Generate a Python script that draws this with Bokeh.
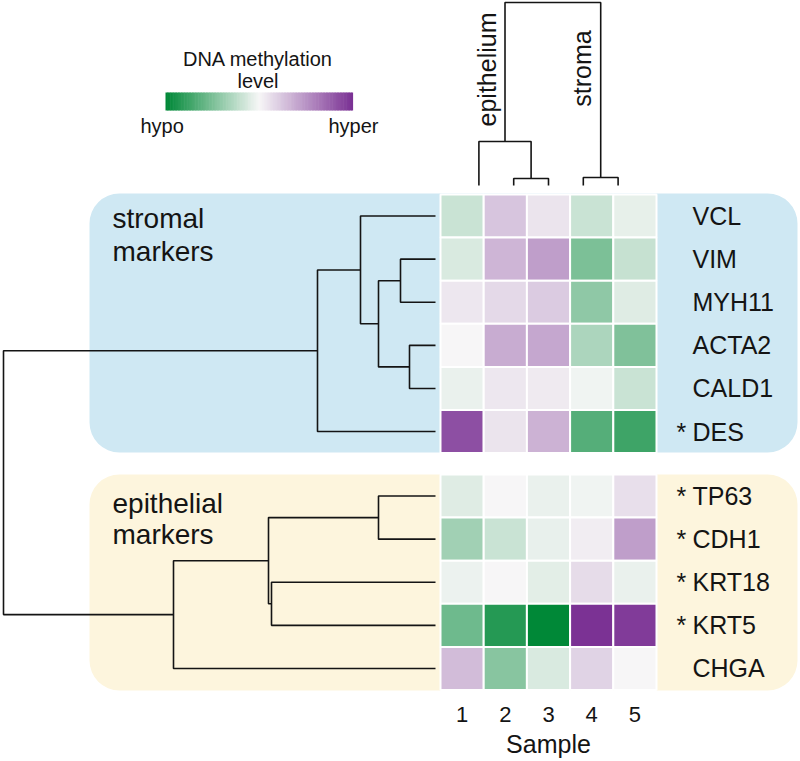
import numpy as np
from bokeh.plotting import figure
from bokeh.models import Range1d, BoxAnnotation, ColumnDataSource, LinearColorMapper
from bokeh.core.properties import value
from bokeh.embed import file_html
from bokeh.resources import INLINE

# ---------------- data ----------------
genes = ["VCL", "VIM", "MYH11", "ACTA2", "CALD1", "DES",
         "TP63", "CDH1", "KRT18", "KRT5", "CHGA"]
starred = [False, False, False, False, False, True,
           True, True, True, True, False]
group = ["stromal"] * 6 + ["epithelial"] * 5
samples = ["1", "2", "3", "4", "5"]

# methylation level (-1 = hypo, +1 = hyper), one list per gene, samples 1..5
VCL   = [-0.18,  0.25,  0.10, -0.18, -0.07]
VIM   = [-0.12,  0.33,  0.45, -0.50, -0.20]
MYH11 = [ 0.08,  0.15,  0.22, -0.42, -0.10]
ACTA2 = [ 0.00,  0.38,  0.40, -0.30, -0.48]
CALD1 = [-0.05,  0.08,  0.07, -0.03, -0.18]
DES   = [ 0.85,  0.10,  0.35, -0.65, -0.75]
TP63  = [-0.10,  0.00, -0.05, -0.03,  0.12]
CDH1  = [-0.35, -0.18, -0.06,  0.05,  0.45]
KRT18 = [-0.04,  0.00, -0.08,  0.14, -0.05]
KRT5  = [-0.55, -0.85, -1.00,  1.00,  0.95]
CHGA  = [ 0.30, -0.45, -0.12,  0.18,  0.00]
rows = [VCL, VIM, MYH11, ACTA2, CALD1, DES, TP63, CDH1, KRT18, KRT5, CHGA]

# dendrogram linkages: (node_a, node_b, height); leaves are 0..n-1
row_links = [(1, 2, 0.35), (3, 4, 0.26), (11, 12, 0.57), (0, 13, 0.75), (14, 5, 1.18),
             (6, 7, 0.57), (8, 9, 1.64), (16, 17, 1.67), (18, 10, 2.62), (15, 19, 4.32)]
col_links = [(1, 2, 0.07), (3, 4, 0.08), (0, 5, 0.44), (7, 6, 1.83)]

# ---------------- layout (page pixel units) ----------------
FONT = value("Liberation Sans")
INK = "#141414"
HM_X0, CELL_W, CELL_H = 440.0, 43.2, 43.1
GROUP_TOP = {"stromal": 194.0, "epithelial": 474.0}
ROW_LEAF_X, ROW_SCALE = 435.0, 100.0
COL_LEAF_Y, COL_SCALE = 185.0, 100.0
COL_DEN_CX, COL_DEN_STEP = 548.0, 34.8

p = figure(width=800, height=761, output_backend="svg", toolbar_location=None,
           x_range=Range1d(0, 800), y_range=Range1d(761, 0),
           x_axis_type=None, y_axis_type=None, min_border=0)
p.outline_line_color = None
p.grid.visible = False
p.background_fill_color = "white"
p.border_fill_color = "white"

# colour scale
def _ramp(v):
    g = np.array([0, 136, 55]); w = np.array([247, 247, 247]); pu = np.array([123, 50, 148])
    c = w + (-v) * (g - w) if v < 0 else w + v * (pu - w)
    return "#%02x%02x%02x" % tuple(int(round(x)) for x in c)

palette = [_ramp(v) for v in np.linspace(-1, 1, 256)]
mapper = LinearColorMapper(palette=palette, low=-1, high=1)

# group background boxes
p.add_layout(BoxAnnotation(left=89, right=797, top=193, bottom=452, fill_color="#cfe8f3",
                           fill_alpha=1, line_color=None, border_radius=30, level="underlay"))
p.add_layout(BoxAnnotation(left=89, right=797, top=474, bottom=690, fill_color="#fdf5dd",
                           fill_alpha=1, line_color=None, border_radius=30, level="underlay"))

# row centres
idx_in_group = []
counts = {}
for g in group:
    idx_in_group.append(counts.get(g, 0))
    counts[g] = counts.get(g, 0) + 1
row_y = [GROUP_TOP[g] + (k + 0.5) * CELL_H for g, k in zip(group, idx_in_group)]
col_x = [HM_X0 + (j + 0.5) * CELL_W for j in range(len(samples))]

# heatmap
cx, cy, cv = [], [], []
for i, r in enumerate(rows):
    for j, v in enumerate(r):
        cx.append(col_x[j]); cy.append(row_y[i]); cv.append(v)
p.rect(x="x", y="y", width=CELL_W, height=CELL_H,
       source=ColumnDataSource(dict(x=cx, y=cy, v=cv)),
       fill_color={"field": "v", "transform": mapper}, line_color="white", line_width=2)

# dendrograms
def dendro(leaf_pos, links):
    pos = list(leaf_pos); hgt = [0.0] * len(leaf_pos); out = []
    for a, b, h in links:
        out.append((pos[a], hgt[a], pos[b], hgt[b], h))
        pos.append((pos[a] + pos[b]) / 2); hgt.append(h)
    return out

rxs, rys = [], []
for pa, ha, pb, hb, h in dendro(row_y, row_links):
    rxs.append([ROW_LEAF_X - ha * ROW_SCALE, ROW_LEAF_X - h * ROW_SCALE,
                ROW_LEAF_X - h * ROW_SCALE, ROW_LEAF_X - hb * ROW_SCALE])
    rys.append([pa, pa, pb, pb])
p.multi_line(rxs, rys, line_color=INK, line_width=1.6)

col_leaf_x = [COL_DEN_CX + (j - 2) * COL_DEN_STEP for j in range(len(samples))]
cxs, cys = [], []
for pa, ha, pb, hb, h in dendro(col_leaf_x, col_links):
    cxs.append([pa, pa, pb, pb])
    cys.append([COL_LEAF_Y - ha * COL_SCALE, COL_LEAF_Y - h * COL_SCALE,
                COL_LEAF_Y - h * COL_SCALE, COL_LEAF_Y - hb * COL_SCALE])
p.multi_line(cxs, cys, line_color=INK, line_width=1.6)

def label(xs, ys, texts, size, align="left", angle=0.0):
    p.text(x=xs, y=ys, text=texts, angle=angle, text_font=FONT, text_font_size=size,
           text_color=INK, text_align=align, text_baseline="middle")

# column cluster labels
label([486, 581], [69, 68], ["epithelium", "stroma"], "25px", "center", np.pi / 2)

# gene labels
label([692] * len(genes), row_y, genes, "25px")
sy = [y for y, s in zip(row_y, starred) if s]
label([676] * len(sy), sy, ["*"] * len(sy), "25px")

# group labels
label([112, 112, 112, 112], [218, 251, 503, 534],
      ["stromal", "markers", "epithelial", "markers"], "28px")

# sample axis
label(col_x, [714] * len(samples), samples, "22px", "center")
label([548], [743], ["Sample"], "25px", "center")

# colour legend
nb = 120
edges = np.linspace(165, 352, nb + 1)
vals = np.linspace(-1, 1, nb)
bar_colors = [palette[int(round((v + 1) / 2 * 255))] for v in vals]
p.quad(left=list(edges[:-1]), right=list(edges[1:] + 0.6), top=92, bottom=110,
       fill_color=bar_colors, line_color=None)
label([257.5, 257.5], [58, 80], ["DNA methylation", "level"], "20px", "center")
label([140], [125], ["hypo"], "20px", "left")
label([378], [125], ["hyper"], "20px", "right")

open("out.html", "w").write(file_html(p, INLINE))
